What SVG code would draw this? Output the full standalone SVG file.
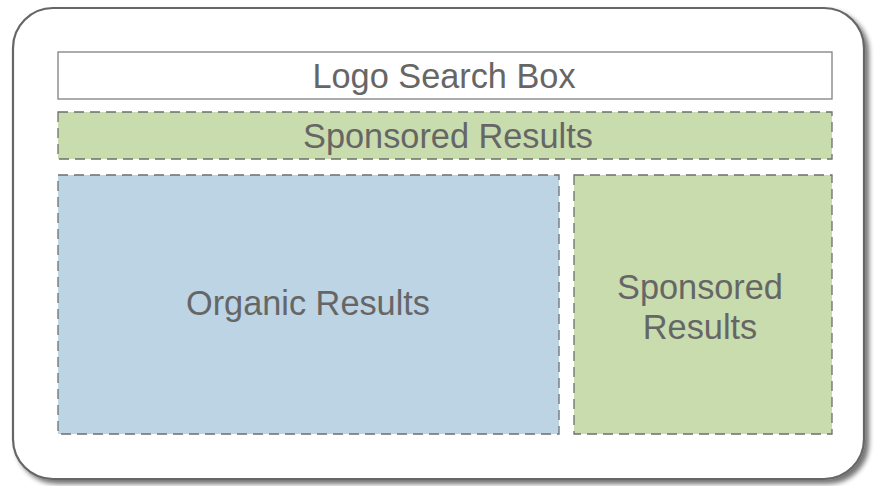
<svg xmlns="http://www.w3.org/2000/svg" width="876" height="486" viewBox="0 0 876 486">
<defs>
<filter id="sh" x="-5%" y="-5%" width="115%" height="115%">
<feGaussianBlur in="SourceAlpha" stdDeviation="2.5"/>
<feOffset dx="4" dy="4" result="b"/>
<feComponentTransfer><feFuncA type="linear" slope="0.55"/></feComponentTransfer>
<feMerge><feMergeNode/><feMergeNode in="SourceGraphic"/></feMerge>
</filter>
<style>
.t{font-family:"Liberation Sans",Arial,sans-serif;font-size:34.3px;fill:#666666;text-anchor:middle;dominant-baseline:central}
.d{stroke:#6e6e6e;stroke-width:1.3;stroke-dasharray:10,6}
</style>
</defs>
<rect width="876" height="486" fill="#ffffff"/>
<g id="frame"><rect x="13" y="8" width="851" height="471" rx="40" ry="40" fill="#ffffff" stroke="#666666" stroke-width="2.2" filter="url(#sh)"/></g>
<g id="logo"><rect x="58" y="52" width="774" height="47" fill="#ffffff" stroke="#808080" stroke-width="1.3"/><text class="t" x="444" y="75.5">Logo Search Box</text></g>
<g id="sponsored-top"><rect class="d" x="58" y="112" width="774" height="47" fill="#c9dcae"/><text class="t" x="448" y="135.5">Sponsored Results</text></g>
<g id="organic"><rect class="d" x="58" y="175" width="501" height="259" fill="#bdd4e4"/><text class="t" x="308" y="303">Organic Results</text></g>
<g id="sponsored-right"><rect class="d" x="574" y="175" width="258" height="259" fill="#c9dcae"/><text class="t" x="700" y="287">Sponsored</text><text class="t" x="700" y="327">Results</text></g>
<g id="connectors"/>
</svg>
